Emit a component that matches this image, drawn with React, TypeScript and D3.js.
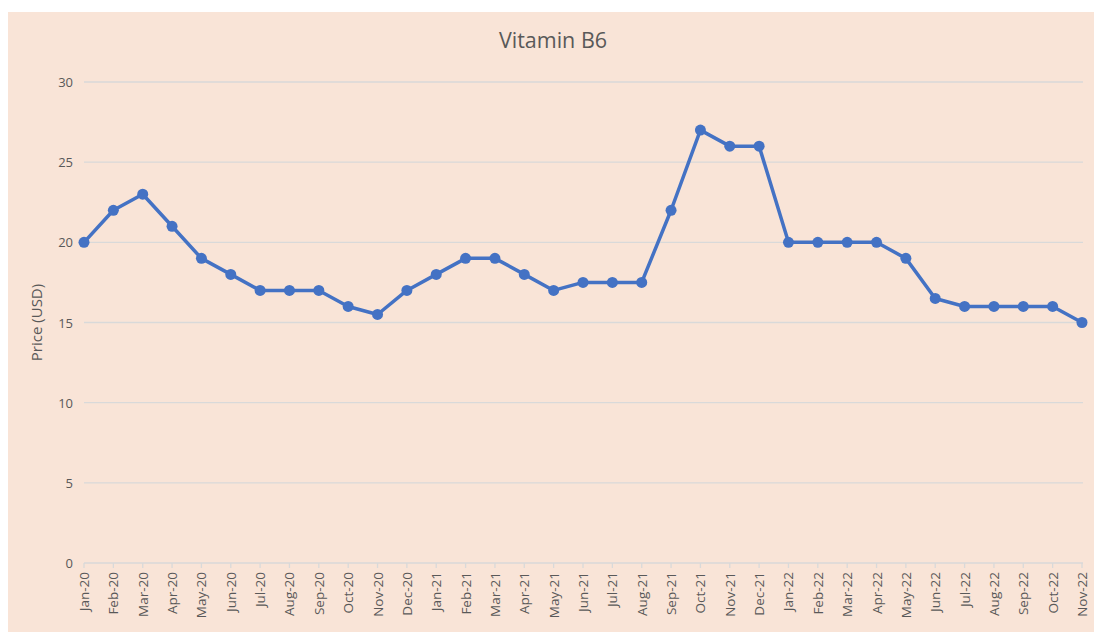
import React from "react";
import * as d3 from "d3";

const months = [
  "Jan-20","Feb-20","Mar-20","Apr-20","May-20","Jun-20","Jul-20","Aug-20","Sep-20","Oct-20","Nov-20","Dec-20",
  "Jan-21","Feb-21","Mar-21","Apr-21","May-21","Jun-21","Jul-21","Aug-21","Sep-21","Oct-21","Nov-21","Dec-21",
  "Jan-22","Feb-22","Mar-22","Apr-22","May-22","Jun-22","Jul-22","Aug-22","Sep-22","Oct-22","Nov-22",
];
const prices = [
  20, 22, 23, 21, 19, 18, 17, 17, 17, 16, 15.5, 17,
  18, 19, 19, 18, 17, 17.5, 17.5, 17.5, 22, 27, 26, 26,
  20, 20, 20, 20, 19, 16.5, 16, 16, 16, 16, 15,
];
const yTicks = [0, 5, 10, 15, 20, 25, 30];

const W = 1094, H = 632;
const font = "'Open Sans', 'Noto Sans', sans-serif";
const textColor = "#595959";

export default function App() {
  const x = d3.scalePoint<string>().domain(months).range([84, 1082]);
  const y = d3.scaleLinear().domain([0, 30]).range([563, 82]);
  const line = d3.line<number>().x((_, i) => x(months[i])!).y((d) => y(d));
  return (
    <svg width={W} height={H} style={{ position: "absolute", left: 0, top: 0 }}>
      <rect x={0} y={0} width={W} height={H} fill="#ffffff" />
      <rect x={8} y={12} width={W - 8} height={H - 12} fill="#f9e4d7" />
      <text x={553} y={48} textAnchor="middle" fontFamily={font} fontSize={21.5} fill={textColor}>
        Vitamin B6
      </text>
      {yTicks.map((t) => (
        <g key={t}>
          <line x1={84} x2={1083} y1={y(t)} y2={y(t)} stroke="#d9d9d9" strokeWidth={t === 0 ? 1.5 : 1.3} />
          <text x={73} y={y(t) + 5} textAnchor="end" fontFamily={font} fontSize={13} fill={textColor}>
            {t}
          </text>
        </g>
      ))}
      {months.map((m) => (
        <g key={m}>
          <line x1={x(m)!} x2={x(m)!} y1={563} y2={568} stroke="#d9d9d9" strokeWidth={1.3} />
          <text
            transform={`translate(${x(m)! + 5},${572}) rotate(-90)`}
            textAnchor="end"
            fontFamily={font}
            fontSize={13.5}
            fill={textColor}
          >
            {m}
          </text>
        </g>
      ))}
      <text
        transform={`translate(42,${(82 + 563) / 2}) rotate(-90)`}
        textAnchor="middle"
        fontFamily={font}
        fontSize={15}
        fill={textColor}
      >
        Price (USD)
      </text>
      <path d={line(prices)!} fill="none" stroke="#4472c4" strokeWidth={3.5} strokeLinejoin="round" />
      {prices.map((p, i) => (
        <circle key={i} cx={x(months[i])!} cy={y(p)} r={5.5} fill="#4472c4" />
      ))}
    </svg>
  );
}
